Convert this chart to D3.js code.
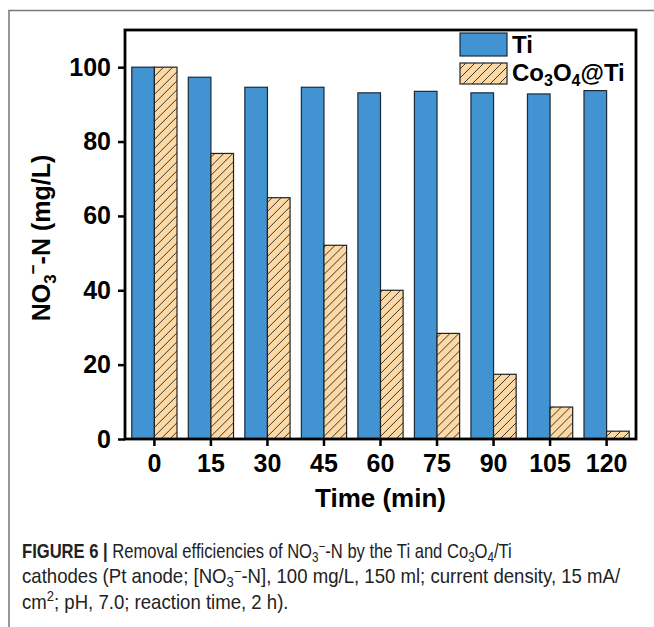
<!DOCTYPE html>
<html>
<head>
<meta charset="utf-8">
<script src="https://cdn.jsdelivr.net/npm/d3@7"></script>
<style>
  body { margin: 0; background: #fff; }
  svg { display: block; }
</style>
</head>
<body>
<div id="container"></div>
<script>
// data
const times = ["0", "15", "30", "45", "60", "75", "90", "105", "120"];
const tiValues = [100, 97.3, 94.6, 94.6, 93.1, 93.5, 93.1, 92.8, 93.7];
const coValues = [100, 76.8, 64.9, 52.1, 40.0, 28.4, 17.4, 8.6, 2.1];
const yTicks = [0, 20, 40, 60, 80, 100];

const width = 654, height = 627;
const margin = { top: 30, left: 125, right: 18, bottom: 188 };

const svg = d3.select("#container").append("svg")
  .attr("width", width)
  .attr("height", height);

// hatch for the Co3O4@Ti bars
const defs = svg.append("defs");
defs.append("pattern")
  .attr("id", "hatch")
  .attr("patternUnits", "userSpaceOnUse")
  .attr("width", 9).attr("height", 9)
  .call(p => {
    p.append("rect").attr("width", 9).attr("height", 9).attr("fill", "#fcd9a5");
    p.append("path")
      .attr("d", "M-1,1 l2,-2 M0,9 l9,-9 M8,10 l2,-2")
      .attr("stroke", "#222").attr("stroke-width", 0.9);
  });

// figure frame (gray lines top and left)
svg.append("path")
  .attr("d", `M9,${height} V10.5 H${width}`)
  .attr("fill", "none")
  .attr("stroke", "#777")
  .attr("stroke-width", 1.5);

const x0 = margin.left, x1 = width - margin.right;
const yTop = margin.top, yBottom = height - margin.bottom;

const x = d3.scaleBand().domain(times).range([x0, x1]).paddingInner(0.2).paddingOuter(0.12);
const sub = d3.scaleBand().domain(["ti", "co"]).range([0, x.bandwidth()]);
const y = d3.scaleLinear().domain([0, 110]).range([yBottom, yTop]);

const groups = svg.append("g").selectAll("g")
  .data(times)
  .join("g")
  .attr("transform", d => `translate(${x(d)},0)`);

groups.append("rect")
  .attr("x", sub("ti"))
  .attr("width", sub.bandwidth())
  .attr("y", (d, i) => y(tiValues[i]))
  .attr("height", (d, i) => y(0) - y(tiValues[i]))
  .attr("fill", "#4193d1")
  .attr("stroke", "#1b2a38")
  .attr("stroke-width", 1.2);

groups.append("rect")
  .attr("x", sub("co"))
  .attr("width", sub.bandwidth())
  .attr("y", (d, i) => y(coValues[i]))
  .attr("height", (d, i) => y(0) - y(coValues[i]))
  .attr("fill", "url(#hatch)")
  .attr("stroke", "#222")
  .attr("stroke-width", 1.2);

// axes
const fontBold = "'Liberation Sans', Arial, sans-serif";

const yAxis = svg.append("g")
  .attr("transform", `translate(${x0},0)`)
  .call(d3.axisLeft(y).tickValues(yTicks).tickSize(7).tickPadding(7));
const xAxis = svg.append("g")
  .attr("transform", `translate(0,${yBottom})`)
  .call(d3.axisBottom(x).tickSize(7).tickPadding(8));

[yAxis, xAxis].forEach(a => {
  a.select(".domain").remove();
  a.selectAll("line").attr("stroke", "#000").attr("stroke-width", 2.5);
  a.selectAll("text")
    .attr("font-family", fontBold)
    .attr("font-weight", "bold")
    .attr("font-size", 25)
    .attr("fill", "#000");
});

// plot frame
svg.append("rect")
  .attr("x", x0).attr("y", yTop)
  .attr("width", x1 - x0).attr("height", yBottom - yTop)
  .attr("fill", "none")
  .attr("stroke", "#000")
  .attr("stroke-width", 2.8);

// axis titles
svg.append("text")
  .attr("x", (x0 + x1) / 2)
  .attr("y", 507)
  .attr("text-anchor", "middle")
  .attr("font-family", fontBold)
  .attr("font-weight", "bold")
  .attr("font-size", 26)
  .text("Time (min)");

const yl = svg.append("text")
  .attr("transform", `translate(50,238) rotate(-90)`)
  .attr("text-anchor", "middle")
  .attr("font-family", fontBold)
  .attr("font-weight", "bold")
  .attr("font-size", 25);
yl.append("tspan").text("NO");
yl.append("tspan").attr("font-size", 17).attr("dy", 6).text("3");
yl.append("tspan").attr("font-size", 17).attr("dy", -17).text("−");
yl.append("tspan").attr("dy", 11).text("-N (mg/L)");

// legend
const legend = svg.append("g").attr("transform", "translate(460,33)");
legend.append("rect")
  .attr("width", 47).attr("height", 23)
  .attr("fill", "#4193d1").attr("stroke", "#1b2a38").attr("stroke-width", 1.2);
legend.append("rect")
  .attr("y", 30)
  .attr("width", 47).attr("height", 21)
  .attr("fill", "url(#hatch)").attr("stroke", "#222").attr("stroke-width", 1.2);
legend.append("text")
  .attr("x", 52).attr("y", 20)
  .attr("font-family", fontBold).attr("font-weight", "bold").attr("font-size", 24)
  .text("Ti");
const coLab = legend.append("text")
  .attr("x", 52).attr("y", 48)
  .attr("font-family", fontBold).attr("font-weight", "bold").attr("font-size", 24);
coLab.append("tspan").text("Co");
coLab.append("tspan").attr("font-size", 16).attr("dy", 5).text("3");
coLab.append("tspan").attr("dy", -5).text("O");
coLab.append("tspan").attr("font-size", 16).attr("dy", 5).text("4");
coLab.append("tspan").attr("dy", -5).text("@Ti");

// caption (condensed look: squeeze horizontally)
const capFont = "'Liberation Sans', Arial, sans-serif";
const cap = svg.append("g")
  .attr("font-family", capFont)
  .attr("font-size", 20)
  .attr("fill", "#222");

const l1 = cap.append("text")
  .attr("transform", "translate(22,558) scale(0.83,1)");
l1.append("tspan").attr("font-weight", "bold").text("FIGURE 6 | ");
l1.append("tspan").text("Removal efficiencies of NO");
l1.append("tspan").attr("font-size", 14).attr("dy", 4).text("3");
l1.append("tspan").attr("font-size", 14).attr("dy", -11).text("−");
l1.append("tspan").attr("dy", 7).text("-N by the Ti and Co");
l1.append("tspan").attr("font-size", 14).attr("dy", 4).text("3");
l1.append("tspan").attr("dy", -4).text("O");
l1.append("tspan").attr("font-size", 14).attr("dy", 4).text("4");
l1.append("tspan").attr("dy", -4).text("/Ti");

const l2 = cap.append("text")
  .attr("transform", "translate(22,583) scale(0.93,1)");
l2.append("tspan").text("cathodes (Pt anode; [NO");
l2.append("tspan").attr("font-size", 14).attr("dy", 4).text("3");
l2.append("tspan").attr("font-size", 14).attr("dy", -11).text("−");
l2.append("tspan").attr("dy", 7).text("-N], 100 mg/L, 150 ml; current density, 15 mA/");

const l3 = cap.append("text")
  .attr("transform", "translate(22,609) scale(0.93,1)");
l3.append("tspan").text("cm");
l3.append("tspan").attr("font-size", 14).attr("dy", -8).text("2");
l3.append("tspan").attr("dy", 8).text("; pH, 7.0; reaction time, 2 h).");
</script>
</body>
</html>
